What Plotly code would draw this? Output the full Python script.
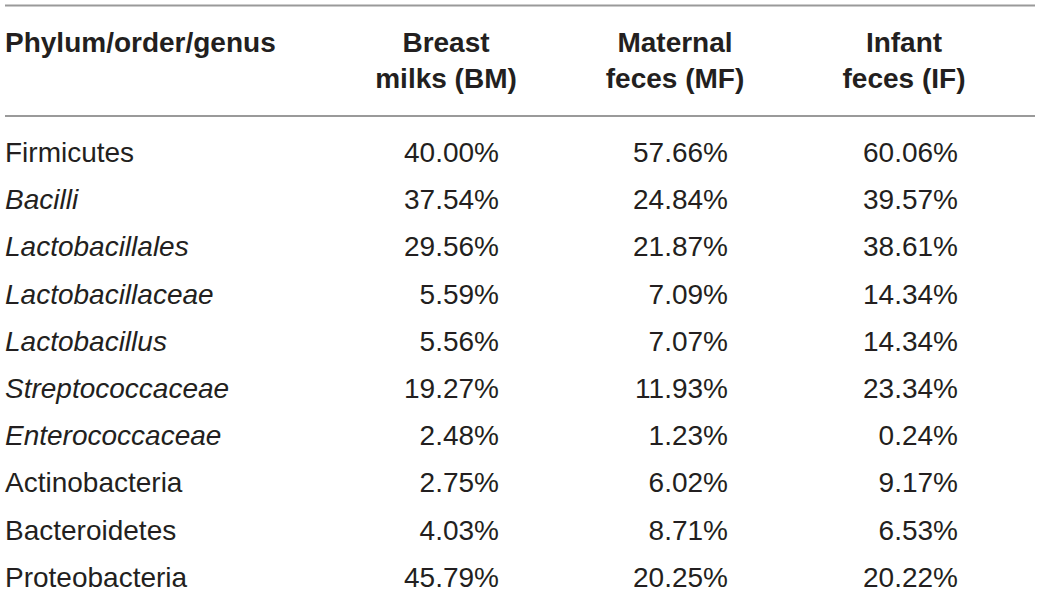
import plotly.graph_objects as go

# ---- data ----
header_label = "Phylum/order/genus"
column_headers = ["Breast<br>milks (BM)", "Maternal<br>feces (MF)", "Infant<br>feces (IF)"]
taxa = ["Firmicutes", "Bacilli", "Lactobacillales", "Lactobacillaceae", "Lactobacillus",
        "Streptococcaceae", "Enterococcaceae", "Actinobacteria", "Bacteroidetes", "Proteobacteria"]
italic = [False, True, True, True, True, True, True, False, False, False]
bm = [40.00, 37.54, 29.56, 5.59, 5.56, 19.27, 2.48, 2.75, 4.03, 45.79]
mf = [57.66, 24.84, 21.87, 7.09, 7.07, 11.93, 1.23, 6.02, 8.71, 20.25]
inf = [60.06, 39.57, 38.61, 14.34, 14.34, 23.34, 0.24, 9.17, 6.53, 20.22]

W, H = 1040, 594
FONT = "Liberation Sans, Arial, Helvetica, sans-serif"
TXT = "#231f20"
SIZE = 28

row0, step = 155, 47.2
rows_y = [row0 + i * step for i in range(len(taxa))]

fig = go.Figure()

labels = [f"<i>{t}</i>" if it else t for t, it in zip(taxa, italic)]
fig.add_trace(go.Scatter(x=[5] * len(taxa), y=rows_y, mode="text", text=labels,
                         textposition="middle right",
                         textfont=dict(family=FONT, size=SIZE, color=TXT),
                         hoverinfo="skip", showlegend=False))

right_edges = [499, 728, 958]
for col, xr in zip([bm, mf, inf], right_edges):
    fig.add_trace(go.Scatter(x=[xr] * len(col), y=rows_y, mode="text",
                             text=[f"{v:.2f}%" for v in col],
                             textposition="middle left",
                             textfont=dict(family=FONT, size=SIZE, color=TXT),
                             hoverinfo="skip", showlegend=False))

# headers
fig.add_trace(go.Scatter(x=[5], y=[45], mode="text", text=[f"<b>{header_label}</b>"],
                         textposition="middle right",
                         textfont=dict(family=FONT, size=SIZE, color=TXT),
                         hoverinfo="skip", showlegend=False))
fig.add_trace(go.Scatter(x=[446, 675, 904], y=[63, 63, 63], mode="text",
                         text=[f"<b>{h}</b>" for h in column_headers],
                         textposition="middle center",
                         textfont=dict(family=FONT, size=SIZE, color=TXT),
                         hoverinfo="skip", showlegend=False))

# rules
for yy in [5.5, 116]:
    fig.add_shape(type="line", x0=5, x1=1035, y0=yy, y1=yy, xref="x", yref="y",
                  line=dict(color="#9a9a9a", width=2))

fig.update_layout(
    width=W, height=H,
    margin=dict(l=0, r=0, t=0, b=0),
    paper_bgcolor="white", plot_bgcolor="white",
    xaxis=dict(range=[0, W], visible=False, fixedrange=True),
    yaxis=dict(range=[H, 0], visible=False, fixedrange=True),
)

fig.write_html("out.html", config={"displayModeBar": False},
               post_script="document.body.style.margin='0';document.body.style.overflow='hidden';")
